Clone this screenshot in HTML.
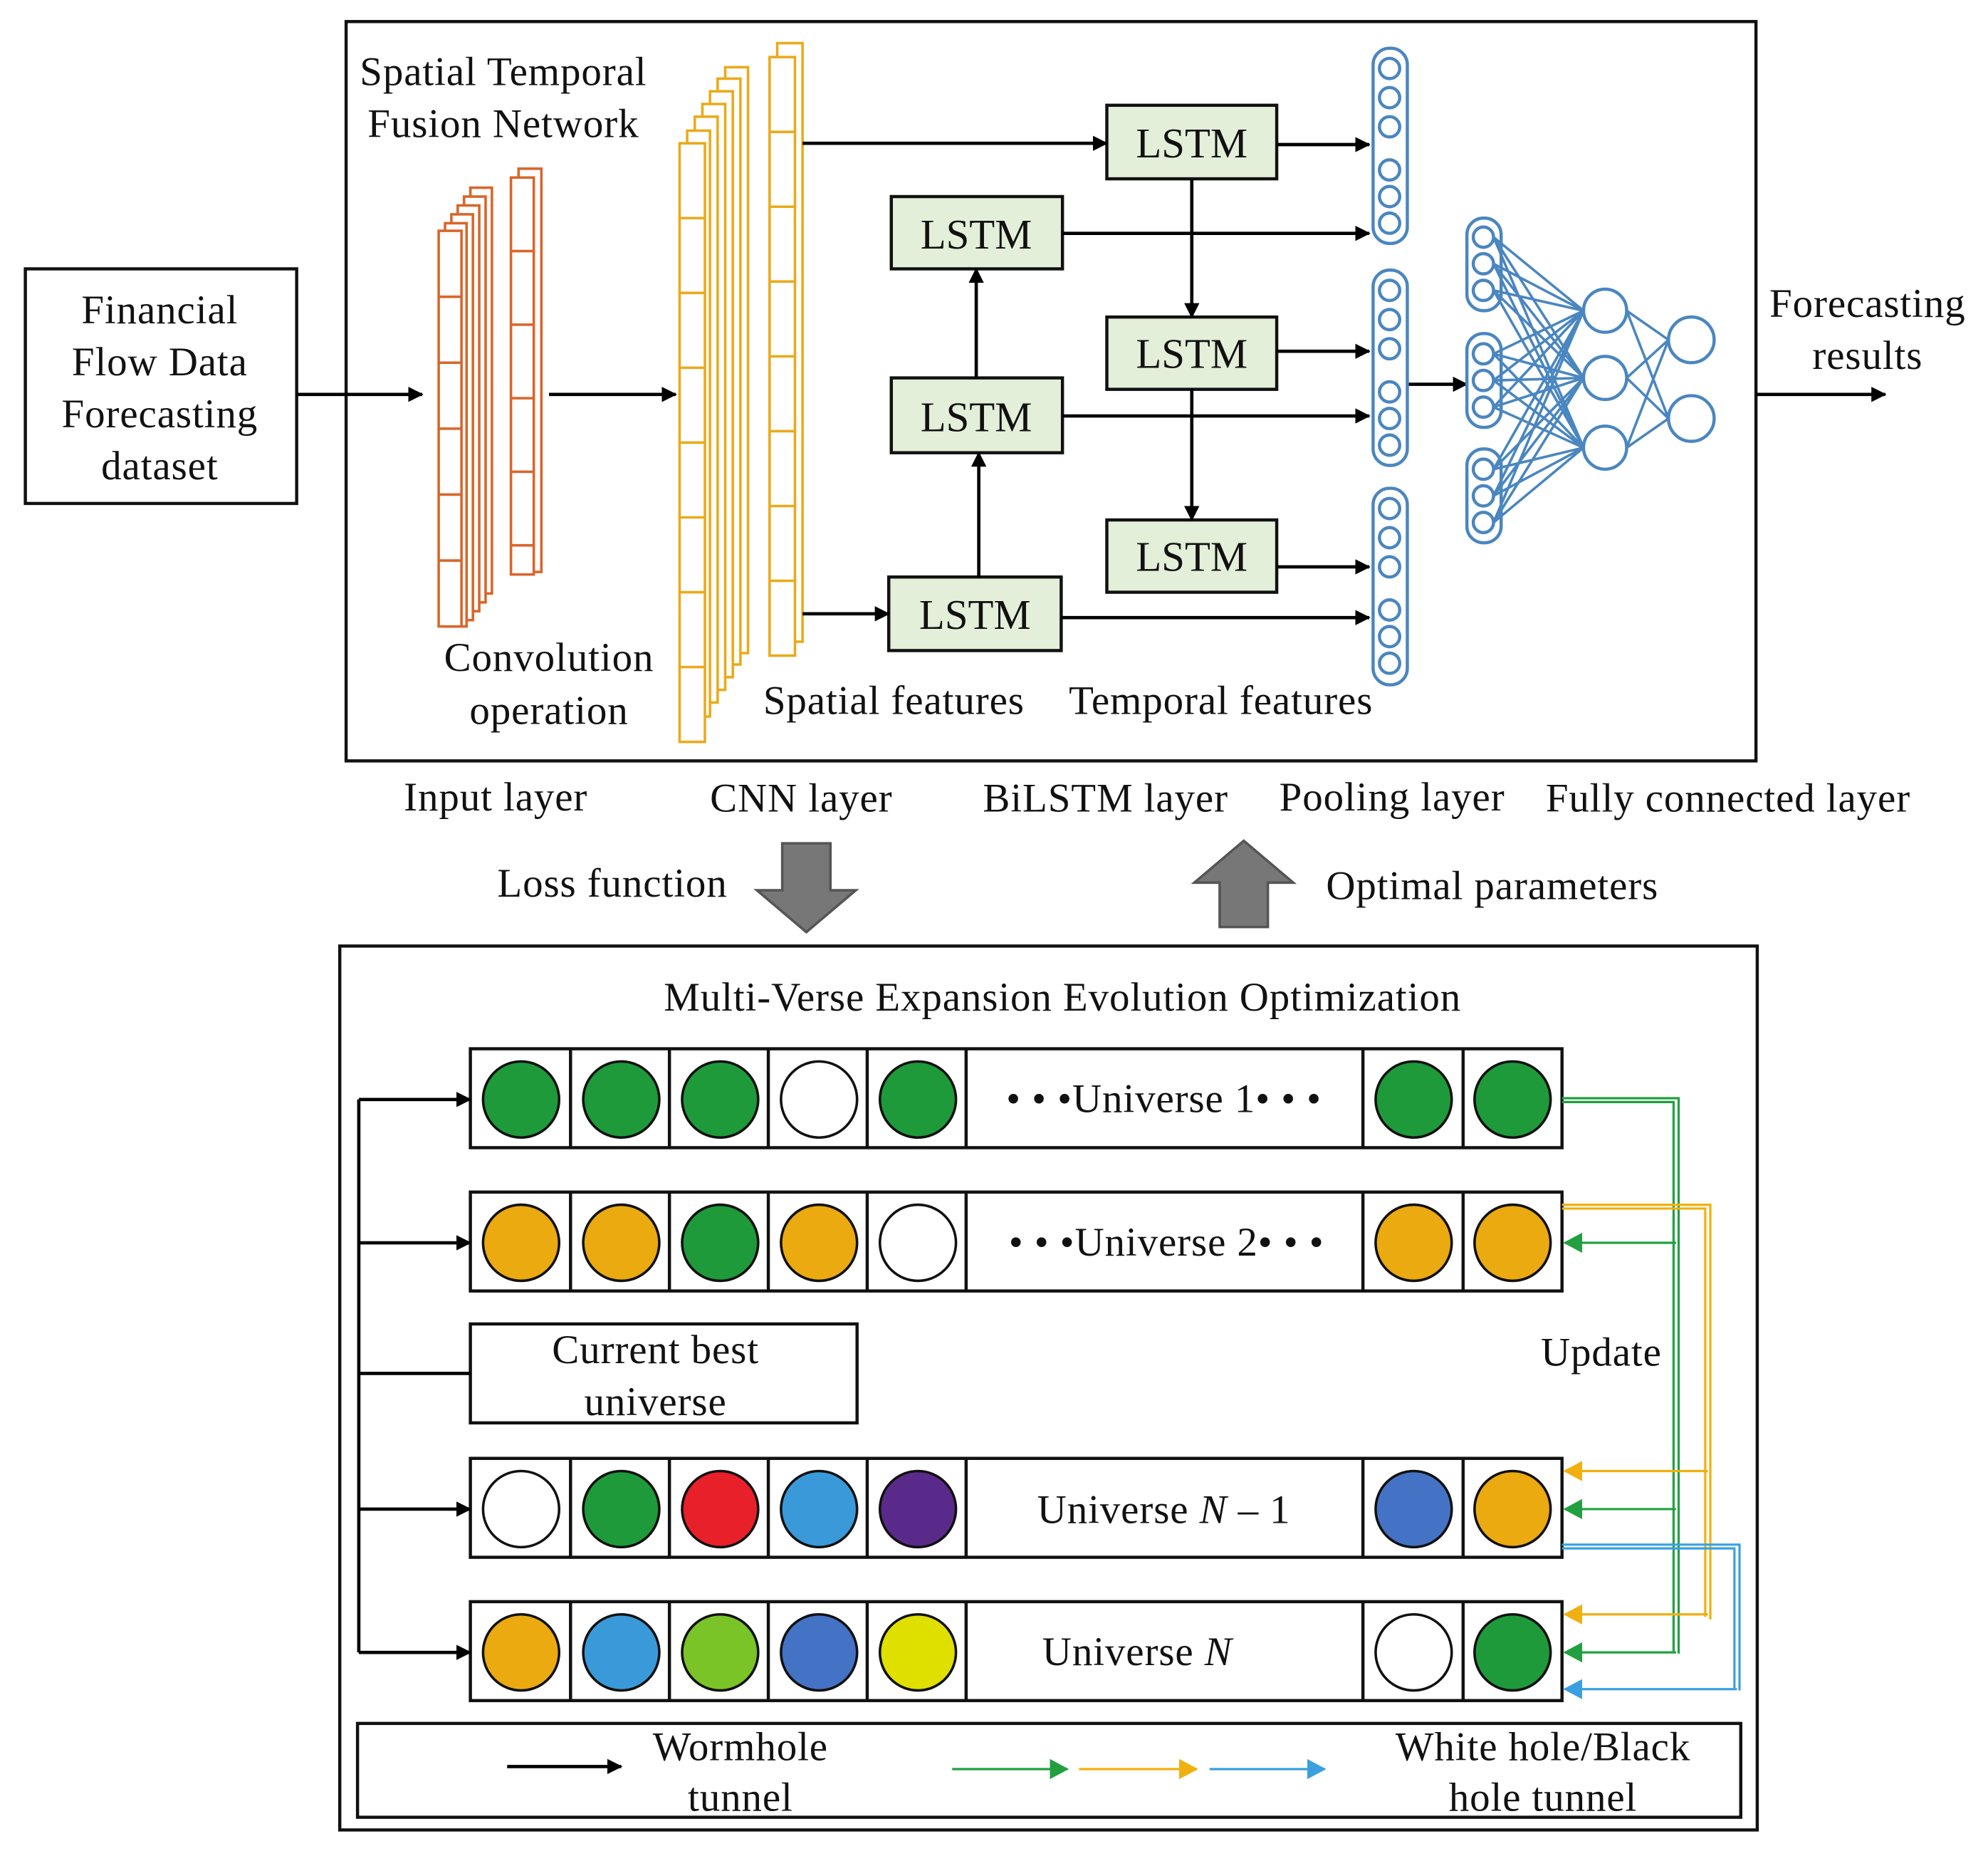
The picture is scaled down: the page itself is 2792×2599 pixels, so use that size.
<!DOCTYPE html>
<html><head><meta charset="utf-8"><style>
html,body{margin:0;padding:0;background:#fff}
svg{display:block}
text{font-family:"Liberation Serif",serif;fill:#111}
</style></head><body>
<svg width="2792" height="2599" viewBox="0 0 1568 1459.6" xmlns="http://www.w3.org/2000/svg">
<defs>
<marker id="ab" markerWidth="12" markerHeight="12" refX="11" refY="6" orient="auto" markerUnits="userSpaceOnUse"><path d="M0,0 L12,6 L0,12 Z" fill="#000"/></marker>
<marker id="ag" markerWidth="16" markerHeight="16" refX="14" refY="8" orient="auto" markerUnits="userSpaceOnUse"><path d="M0,0 L15,8 L0,16 Z" fill="#22a040"/></marker>
<marker id="ay" markerWidth="16" markerHeight="16" refX="14" refY="8" orient="auto" markerUnits="userSpaceOnUse"><path d="M0,0 L15,8 L0,16 Z" fill="#f0b010"/></marker>
<marker id="abl" markerWidth="16" markerHeight="16" refX="14" refY="8" orient="auto" markerUnits="userSpaceOnUse"><path d="M0,0 L15,8 L0,16 Z" fill="#3aa0e0"/></marker>
</defs>

<rect x="273" y="17" width="1112" height="583" fill="none" stroke="#111" stroke-width="2.5"/>
<rect x="20" y="212" width="214" height="185" fill="none" stroke="#111" stroke-width="2.5"/>
<g font-size="32" letter-spacing="0.5" text-anchor="middle">
<text x="126" y="255">Financial</text><text x="126" y="296">Flow Data</text><text x="126" y="337">Forecasting</text><text x="126" y="378">dataset</text>
<text x="397" y="67">Spatial Temporal</text><text x="397" y="108">Fusion Network</text>
<text x="433" y="529">Convolution</text><text x="433" y="571">operation</text>
<text x="705" y="563">Spatial features</text><text x="963" y="563">Temporal features</text>
<text x="1473" y="250">Forecasting</text><text x="1473" y="291">results</text>
<text x="391" y="639">Input layer</text><text x="632" y="640">CNN layer</text><text x="872" y="640">BiLSTM layer</text><text x="1098" y="639">Pooling layer</text><text x="1363" y="640">Fully connected layer</text>
<text x="483" y="707">Loss function</text><text x="1177" y="709">Optimal parameters</text>
<text x="838" y="797">Multi-Verse Expansion Evolution Optimization</text>
</g>

<g fill="#fff" stroke="#d9652a" stroke-width="2">
<rect x="371" y="148" width="17" height="320"/><rect x="366" y="155" width="17" height="320"/><rect x="361" y="162" width="17" height="320"/><rect x="356" y="169" width="17" height="320"/><rect x="351" y="176" width="17" height="318"/><rect x="346" y="182" width="18" height="312"/>
<path d="M346,234h18M346,286h18M346,338h18M346,390h18M346,442h18"/>
<rect x="409" y="133" width="18" height="318"/><rect x="403" y="140" width="18" height="313"/>
<path d="M403,198h18M403,256h18M403,314h18M403,372h18M403,430h18"/>
</g>
<g fill="#fff" stroke="#eaaa1a" stroke-width="2">
<rect x="572" y="53" width="18" height="462"/><rect x="566" y="62" width="18" height="462"/><rect x="560" y="72" width="18" height="462"/><rect x="554" y="82" width="18" height="462"/><rect x="548" y="92" width="18" height="462"/><rect x="542" y="103" width="18" height="462"/><rect x="536" y="113" width="20" height="472"/>
<path d="M536,172h20M536,231h20M536,290h20M536,349h20M536,408h20M536,467h20M536,526h20"/>
<rect x="613" y="34" width="20" height="472"/><rect x="607" y="45" width="20" height="472"/>
<path d="M607,104h20M607,163h20M607,222h20M607,281h20M607,340h20M607,399h20M607,458h20"/>
</g>

<g fill="#e3efd9" stroke="#111" stroke-width="2.5">
<rect x="873" y="83" width="134" height="58"/><rect x="703" y="155" width="135" height="57"/><rect x="873" y="250" width="134" height="57"/><rect x="703" y="298" width="135" height="59"/><rect x="873" y="410" width="134" height="57"/><rect x="701" y="455" width="136" height="58"/>
</g>
<g font-size="33" text-anchor="middle">
<text x="940" y="124">LSTM</text><text x="770" y="196">LSTM</text><text x="940" y="290">LSTM</text><text x="770" y="340">LSTM</text><text x="940" y="450">LSTM</text><text x="769" y="496">LSTM</text>
</g>

<g stroke="#000" stroke-width="2.6" marker-end="url(#ab)" fill="none">
<path d="M234,311H333"/><path d="M433,311H533"/>
<path d="M633,113H873"/><path d="M838,184H1080"/><path d="M1007,114H1080"/>
<path d="M940,141V250"/><path d="M1007,277H1080"/><path d="M838,328H1080"/>
<path d="M940,307V410"/><path d="M1007,447H1080"/><path d="M837,487H1080"/>
<path d="M633,484H701"/><path d="M770,298V212"/><path d="M772,455V357"/>
<path d="M1110,303H1157"/><path d="M1385,311H1487"/>
</g>

<g fill="none" stroke="#4a86c0" stroke-width="2.5">
<rect x="1083" y="38" width="27" height="154" rx="13"/>
<circle cx="1096" cy="54" r="8"/><circle cx="1096" cy="77" r="8"/><circle cx="1096" cy="100" r="8"/><circle cx="1096" cy="134" r="8"/><circle cx="1096" cy="155" r="8"/><circle cx="1096" cy="176" r="8"/>
<rect x="1083" y="213" width="27" height="154" rx="13"/>
<circle cx="1096" cy="229" r="8"/><circle cx="1096" cy="252" r="8"/><circle cx="1096" cy="275" r="8"/><circle cx="1096" cy="309" r="8"/><circle cx="1096" cy="330" r="8"/><circle cx="1096" cy="351" r="8"/>
<rect x="1083" y="385" width="27" height="155" rx="13"/>
<circle cx="1096" cy="401" r="8"/><circle cx="1096" cy="424" r="8"/><circle cx="1096" cy="447" r="8"/><circle cx="1096" cy="481" r="8"/><circle cx="1096" cy="502" r="8"/><circle cx="1096" cy="523" r="8"/>
<rect x="1157" y="172" width="27" height="73" rx="13"/><circle cx="1170" cy="187" r="8"/><circle cx="1170" cy="208" r="8"/><circle cx="1170" cy="229" r="8"/>
<rect x="1157" y="263" width="27" height="74" rx="13"/><circle cx="1170" cy="279" r="8"/><circle cx="1170" cy="300" r="8"/><circle cx="1170" cy="321" r="8"/>
<rect x="1157" y="354" width="27" height="74" rx="13"/><circle cx="1170" cy="370" r="8"/><circle cx="1170" cy="391" r="8"/><circle cx="1170" cy="412" r="8"/>
<circle cx="1266" cy="245" r="17"/><circle cx="1266" cy="298" r="17"/><circle cx="1266" cy="353" r="17"/>
<circle cx="1334" cy="268" r="18"/><circle cx="1334" cy="330" r="18"/>
</g>
<g stroke="#4a86c0" stroke-width="2" fill="none">
<path d="M1178,187L1249,245M1178,187L1249,298M1178,187L1249,353M1178,208L1249,245M1178,208L1249,298M1178,208L1249,353M1178,229L1249,245M1178,229L1249,298M1178,229L1249,353
M1178,279L1249,245M1178,279L1249,298M1178,279L1249,353M1178,300L1249,245M1178,300L1249,298M1178,300L1249,353M1178,321L1249,245M1178,321L1249,298M1178,321L1249,353
M1178,370L1249,245M1178,370L1249,298M1178,370L1249,353M1178,391L1249,245M1178,391L1249,298M1178,391L1249,353M1178,412L1249,245M1178,412L1249,298M1178,412L1249,353
M1283,245L1316,268M1283,245L1316,330M1283,298L1316,268M1283,298L1316,330M1283,353L1316,268M1283,353L1316,330"/>
</g>

<path d="M617,665H655V702H675L636,735L597,702H617Z" fill="#777" stroke="#555" stroke-width="2"/>
<path d="M962,731H1000V696H1020L981,663L942,696H962Z" fill="#777" stroke="#555" stroke-width="2"/>

<rect x="268" y="746" width="1118" height="697" fill="none" stroke="#111" stroke-width="2.5"/>
<g fill="none" stroke="#111" stroke-width="2.5">
<rect x="371" y="827" width="861" height="78"/><rect x="371" y="940" width="861" height="78"/><rect x="371" y="1150" width="861" height="78"/><rect x="371" y="1263" width="861" height="78"/>
<path d="M450,827v78M528,827v78M606,827v78M684,827v78M762,827v78M1075,827v78M1154,827v78"/>
<path d="M450,940v78M528,940v78M606,940v78M684,940v78M762,940v78M1075,940v78M1154,940v78"/>
<path d="M450,1150v78M528,1150v78M606,1150v78M684,1150v78M762,1150v78M1075,1150v78M1154,1150v78"/>
<path d="M450,1263v78M528,1263v78M606,1263v78M684,1263v78M762,1263v78M1075,1263v78M1154,1263v78"/>
<rect x="371" y="1044" width="305" height="78"/>
<rect x="282" y="1359" width="1091" height="74"/>
</g>
<g stroke="#111" stroke-width="2">
<circle cx="411" cy="867" r="30" fill="#1e9a3a"/><circle cx="490" cy="867" r="30" fill="#1e9a3a"/><circle cx="568" cy="867" r="30" fill="#1e9a3a"/><circle cx="646" cy="867" r="30" fill="#fff"/><circle cx="724" cy="867" r="30" fill="#1e9a3a"/><circle cx="1115" cy="867" r="30" fill="#1e9a3a"/><circle cx="1193" cy="867" r="30" fill="#1e9a3a"/>
<circle cx="411" cy="980" r="30" fill="#eaaa10"/><circle cx="490" cy="980" r="30" fill="#eaaa10"/><circle cx="568" cy="980" r="30" fill="#1e9a3a"/><circle cx="646" cy="980" r="30" fill="#eaaa10"/><circle cx="724" cy="980" r="30" fill="#fff"/><circle cx="1115" cy="980" r="30" fill="#eaaa10"/><circle cx="1193" cy="980" r="30" fill="#eaaa10"/>
<circle cx="411" cy="1190" r="30" fill="#fff"/><circle cx="490" cy="1190" r="30" fill="#1e9a3a"/><circle cx="568" cy="1190" r="30" fill="#e8202a"/><circle cx="646" cy="1190" r="30" fill="#3a9ad9"/><circle cx="724" cy="1190" r="30" fill="#5a2a8a"/><circle cx="1115" cy="1190" r="30" fill="#4472c4"/><circle cx="1193" cy="1190" r="30" fill="#eaaa10"/>
<circle cx="411" cy="1303" r="30" fill="#eaaa10"/><circle cx="490" cy="1303" r="30" fill="#3a9ad9"/><circle cx="568" cy="1303" r="30" fill="#7ac427"/><circle cx="646" cy="1303" r="30" fill="#4472c4"/><circle cx="724" cy="1303" r="30" fill="#e0e000"/><circle cx="1115" cy="1303" r="30" fill="#fff"/><circle cx="1193" cy="1303" r="30" fill="#1e9a3a"/>
</g>
<g font-size="32" letter-spacing="0.5" text-anchor="middle">
<text x="918" y="877">• • •Universe 1• • •</text>
<text x="920" y="990">• • •Universe 2• • •</text>
<text x="918" y="1201">Universe   <tspan font-style="italic">N</tspan> – 1</text>
<text x="897" y="1313">Universe   <tspan font-style="italic">N</tspan></text>
<text x="517" y="1075">Current best</text><text x="517" y="1116">universe</text>
<text x="1263" y="1077">Update</text>
<text x="584" y="1388">Wormhole</text><text x="584" y="1428">tunnel</text>
<text x="1217" y="1388">White hole/Black</text><text x="1217" y="1428">hole tunnel</text>
</g>

<g stroke="#000" stroke-width="2.6" fill="none">
<path d="M283,867V1303"/><path d="M283,1083H371"/>
<path d="M283,867H371" marker-end="url(#ab)"/><path d="M283,980H371" marker-end="url(#ab)"/><path d="M283,1190H371" marker-end="url(#ab)"/><path d="M283,1303H371" marker-end="url(#ab)"/>
<path d="M400,1393H490" marker-end="url(#ab)"/>
</g>

<g fill="none" stroke-width="1.8">
<g stroke="#22a040">
<path d="M1232,866H1324V1304"/><path d="M1232,869H1320V1302"/>
<path d="M1322,980H1234" marker-end="url(#ag)"/><path d="M1322,1190H1234" marker-end="url(#ag)"/><path d="M1322,1303H1234" marker-end="url(#ag)"/>
<path d="M751,1395H842" marker-end="url(#ag)"/>
</g>
<g stroke="#f0b010">
<path d="M1232,950H1349V1277"/><path d="M1232,953H1345V1275"/>
<path d="M1347,1160H1234" marker-end="url(#ay)"/><path d="M1347,1273H1234" marker-end="url(#ay)"/>
<path d="M851,1395H944" marker-end="url(#ay)"/>
</g>
<g stroke="#3aa0e0">
<path d="M1232,1218H1372V1333"/><path d="M1232,1221H1368V1331"/>
<path d="M1370,1332H1234" marker-end="url(#abl)"/>
<path d="M954,1395H1045" marker-end="url(#abl)"/>
</g>
</g>
</svg>
</body></html>
